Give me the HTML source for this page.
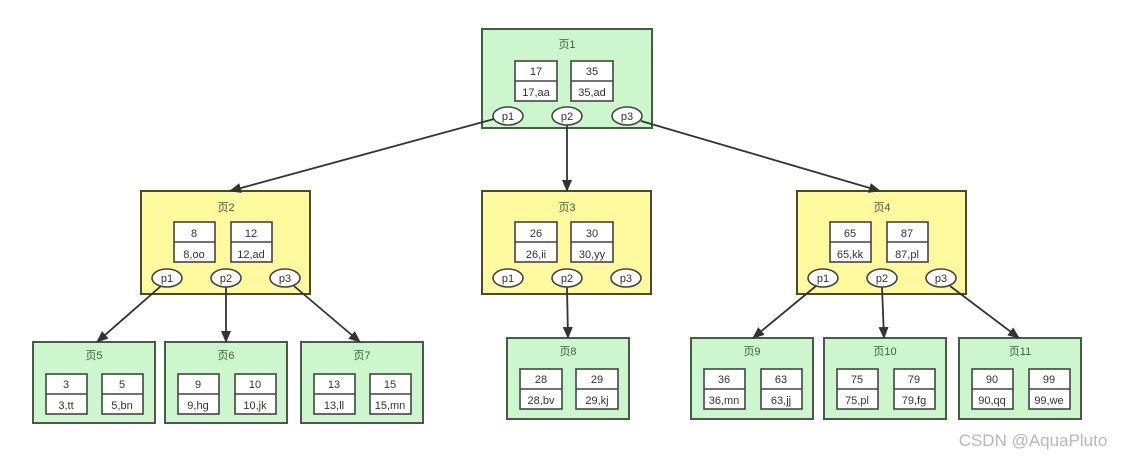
<!DOCTYPE html>
<html><head><meta charset="utf-8"><style>
html,body{margin:0;padding:0;background:#fff;width:1126px;height:457px;overflow:hidden}
svg{display:block}
text{font-family:"Liberation Sans","Noto Sans CJK SC",sans-serif;font-size:11px;fill:#333;text-anchor:middle}
.t{fill:#3d5f3d}
.g{fill:#ccf7cc;stroke:#4a5a4a;stroke-width:2}
.y{fill:#fffa9e;stroke:#4a4a30;stroke-width:2}
.c{fill:#fff;stroke:#444;stroke-width:1.6}
.e{fill:#fff;stroke:#444;stroke-width:1.6}
.a{stroke:#333;stroke-width:1.8;fill:none;marker-end:url(#m)}
</style></head><body>
<svg width="1126" height="457" viewBox="0 0 1126 457">
<defs><marker id="m" markerWidth="14" markerHeight="12" refX="11" refY="5" orient="auto" markerUnits="userSpaceOnUse"><path d="M0,0 L12,5 L0,10 z" fill="#333"/></marker></defs>

<!-- page 1 -->
<rect class="g" x="482" y="29" width="170" height="99"/>
<text class="t" x="567" y="48">页1</text>
<rect class="c" x="515" y="61" width="42" height="40"/><line x1="515" y1="81" x2="557" y2="81" stroke="#444" stroke-width="1.6"/>
<text x="536" y="75">17</text><text x="536" y="96">17,aa</text>
<rect class="c" x="571" y="61" width="42" height="40"/><line x1="571" y1="81" x2="613" y2="81" stroke="#444" stroke-width="1.6"/>
<text x="592" y="75">35</text><text x="592" y="96">35,ad</text>

<!-- page 2 -->
<rect class="y" x="141" y="191" width="169" height="103"/>
<text class="t" x="226" y="211">页2</text>
<rect class="c" x="174" y="222" width="41" height="40"/><line x1="174" y1="242" x2="215" y2="242" stroke="#444" stroke-width="1.6"/>
<text x="194" y="237">8</text><text x="194" y="258">8,oo</text>
<rect class="c" x="231" y="222" width="41" height="40"/><line x1="231" y1="242" x2="272" y2="242" stroke="#444" stroke-width="1.6"/>
<text x="251" y="237">12</text><text x="251" y="258">12,ad</text>

<!-- page 3 -->
<rect class="y" x="482" y="191" width="169" height="103"/>
<text class="t" x="567" y="211">页3</text>
<rect class="c" x="515" y="222" width="42" height="40"/><line x1="515" y1="242" x2="557" y2="242" stroke="#444" stroke-width="1.6"/>
<text x="536" y="237">26</text><text x="536" y="258">26,ii</text>
<rect class="c" x="571" y="222" width="42" height="40"/><line x1="571" y1="242" x2="613" y2="242" stroke="#444" stroke-width="1.6"/>
<text x="592" y="237">30</text><text x="592" y="258">30,yy</text>

<!-- page 4 -->
<rect class="y" x="797" y="191" width="169" height="103"/>
<text class="t" x="882" y="211">页4</text>
<rect class="c" x="830" y="222" width="41" height="40"/><line x1="830" y1="242" x2="871" y2="242" stroke="#444" stroke-width="1.6"/>
<text x="850" y="237">65</text><text x="850" y="258">65,kk</text>
<rect class="c" x="887" y="222" width="41" height="40"/><line x1="887" y1="242" x2="928" y2="242" stroke="#444" stroke-width="1.6"/>
<text x="907" y="237">87</text><text x="907" y="258">87,pl</text>

<!-- leaves -->
<rect class="g" x="33" y="342" width="122" height="81"/>
<text class="t" x="94" y="359">页5</text>
<rect class="c" x="46" y="374" width="41" height="40"/><line x1="46" y1="394" x2="87" y2="394" stroke="#444" stroke-width="1.6"/>
<text x="66" y="388">3</text><text x="66" y="409">3,tt</text>
<rect class="c" x="102" y="374" width="41" height="40"/><line x1="102" y1="394" x2="143" y2="394" stroke="#444" stroke-width="1.6"/>
<text x="122" y="388">5</text><text x="122" y="409">5,bn</text>

<rect class="g" x="165" y="342" width="122" height="81"/>
<text class="t" x="226" y="359">页6</text>
<rect class="c" x="178" y="374" width="41" height="40"/><line x1="178" y1="394" x2="219" y2="394" stroke="#444" stroke-width="1.6"/>
<text x="198" y="388">9</text><text x="198" y="409">9,hg</text>
<rect class="c" x="235" y="374" width="41" height="40"/><line x1="235" y1="394" x2="276" y2="394" stroke="#444" stroke-width="1.6"/>
<text x="255" y="388">10</text><text x="255" y="409">10,jk</text>

<rect class="g" x="301" y="342" width="122" height="81"/>
<text class="t" x="362" y="359">页7</text>
<rect class="c" x="314" y="374" width="41" height="40"/><line x1="314" y1="394" x2="355" y2="394" stroke="#444" stroke-width="1.6"/>
<text x="334" y="388">13</text><text x="334" y="409">13,ll</text>
<rect class="c" x="370" y="374" width="41" height="40"/><line x1="370" y1="394" x2="411" y2="394" stroke="#444" stroke-width="1.6"/>
<text x="390" y="388">15</text><text x="390" y="409">15,mn</text>

<rect class="g" x="507" y="338" width="122" height="81"/>
<text class="t" x="568" y="355">页8</text>
<rect class="c" x="520" y="369" width="42" height="40"/><line x1="520" y1="389" x2="562" y2="389" stroke="#444" stroke-width="1.6"/>
<text x="541" y="383">28</text><text x="541" y="404">28,bv</text>
<rect class="c" x="576" y="369" width="42" height="40"/><line x1="576" y1="389" x2="618" y2="389" stroke="#444" stroke-width="1.6"/>
<text x="597" y="383">29</text><text x="597" y="404">29,kj</text>

<rect class="g" x="691" y="338" width="122" height="81"/>
<text class="t" x="752" y="355">页9</text>
<rect class="c" x="704" y="369" width="41" height="40"/><line x1="704" y1="389" x2="745" y2="389" stroke="#444" stroke-width="1.6"/>
<text x="724" y="383">36</text><text x="724" y="404">36,mn</text>
<rect class="c" x="761" y="369" width="41" height="40"/><line x1="761" y1="389" x2="802" y2="389" stroke="#444" stroke-width="1.6"/>
<text x="781" y="383">63</text><text x="781" y="404">63,jj</text>

<rect class="g" x="824" y="338" width="122" height="81"/>
<text class="t" x="885" y="355">页10</text>
<rect class="c" x="837" y="369" width="41" height="40"/><line x1="837" y1="389" x2="878" y2="389" stroke="#444" stroke-width="1.6"/>
<text x="857" y="383">75</text><text x="857" y="404">75,pl</text>
<rect class="c" x="894" y="369" width="41" height="40"/><line x1="894" y1="389" x2="935" y2="389" stroke="#444" stroke-width="1.6"/>
<text x="914" y="383">79</text><text x="914" y="404">79,fg</text>

<rect class="g" x="959" y="338" width="122" height="81"/>
<text class="t" x="1020" y="355">页11</text>
<rect class="c" x="972" y="369" width="41" height="40"/><line x1="972" y1="389" x2="1013" y2="389" stroke="#444" stroke-width="1.6"/>
<text x="992" y="383">90</text><text x="992" y="404">90,qq</text>
<rect class="c" x="1029" y="369" width="41" height="40"/><line x1="1029" y1="389" x2="1070" y2="389" stroke="#444" stroke-width="1.6"/>
<text x="1049" y="383">99</text><text x="1049" y="404">99,we</text>

<!-- arrows (on top of boxes) -->
<line class="a" x1="494" y1="119" x2="230" y2="191"/>
<line class="a" x1="567" y1="125" x2="567" y2="191"/>
<line class="a" x1="641" y1="121" x2="880" y2="191"/>
<line class="a" x1="161" y1="286" x2="97" y2="342"/>
<line class="a" x1="226" y1="287" x2="226" y2="342"/>
<line class="a" x1="294" y1="286" x2="360" y2="342"/>
<line class="a" x1="567" y1="287" x2="568" y2="338"/>
<line class="a" x1="816" y1="286" x2="753" y2="338"/>
<line class="a" x1="882" y1="287" x2="884" y2="338"/>
<line class="a" x1="950" y1="286" x2="1019" y2="338"/>

<!-- ellipses -->
<ellipse class="e" cx="508" cy="116" rx="15" ry="9"/><text x="508" y="120">p1</text>
<ellipse class="e" cx="567" cy="116" rx="15" ry="9"/><text x="567" y="120">p2</text>
<ellipse class="e" cx="627" cy="116" rx="15" ry="9"/><text x="627" y="120">p3</text>
<ellipse class="e" cx="167" cy="278" rx="15" ry="9"/><text x="167" y="282">p1</text>
<ellipse class="e" cx="226" cy="278" rx="15" ry="9"/><text x="226" y="282">p2</text>
<ellipse class="e" cx="285" cy="278" rx="15" ry="9"/><text x="285" y="282">p3</text>
<ellipse class="e" cx="508" cy="278" rx="15" ry="9"/><text x="508" y="282">p1</text>
<ellipse class="e" cx="567" cy="278" rx="15" ry="9"/><text x="567" y="282">p2</text>
<ellipse class="e" cx="626" cy="278" rx="15" ry="9"/><text x="626" y="282">p3</text>
<ellipse class="e" cx="823" cy="278" rx="15" ry="9"/><text x="823" y="282">p1</text>
<ellipse class="e" cx="882" cy="278" rx="15" ry="9"/><text x="882" y="282">p2</text>
<ellipse class="e" cx="941" cy="278" rx="15" ry="9"/><text x="941" y="282">p3</text>

<text x="1033" y="446" style="font-size:17px;fill:#b8b8b8">CSDN @AquaPluto</text>
</svg>
</body></html>
